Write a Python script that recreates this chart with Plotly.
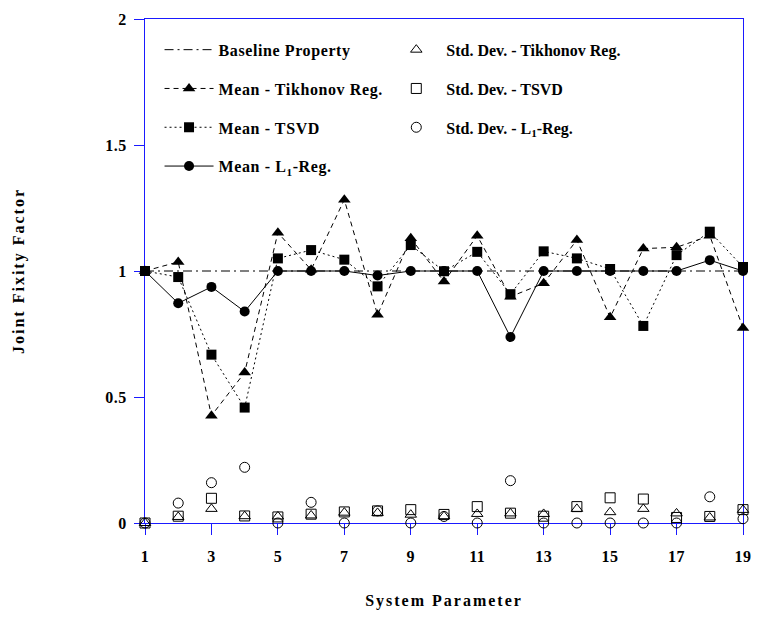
import plotly.graph_objects as go

params = list(range(1, 20))
baseline = [1.0] * 19
mean_tikhonov = [1.0, 1.036, 0.426, 0.597, 1.152, 1.005, 1.283, 0.826, 1.13, 0.958,
                 1.14, 0.898, 0.951, 1.123, 0.816, 1.089, 1.094, 1.14, 0.774]
mean_tsvd = [1.0, 0.976, 0.668, 0.458, 1.05, 1.083, 1.045, 0.939, 1.103, 0.999,
             1.076, 0.908, 1.078, 1.05, 1.008, 0.782, 1.063, 1.156, 1.016]
mean_l1 = [1.0, 0.872, 0.937, 0.839, 1.0, 1.0, 1.0, 0.982, 1.0, 1.0,
           1.0, 0.738, 1.0, 1.0, 1.0, 1.0, 1.0, 1.043, 1.0]
std_tikhonov = [0.0, 0.024, 0.056, 0.027, 0.026, 0.03, 0.041, 0.04, 0.033, 0.027,
                0.036, 0.038, 0.036, 0.056, 0.043, 0.056, 0.038, 0.022, 0.052]
std_tsvd = [0.0, 0.027, 0.098, 0.028, 0.024, 0.035, 0.044, 0.048, 0.053, 0.034,
            0.065, 0.039, 0.027, 0.065, 0.1, 0.095, 0.022, 0.026, 0.053]
std_l1 = [0.0, 0.079, 0.16, 0.221, 0.0, 0.082, 0.0, 0.048, 0.0, 0.026,
          0.0, 0.168, 0.0, 0.0, 0.0, 0.0, 0.0, 0.104, 0.017]

x_ticks = [1, 3, 5, 7, 9, 11, 13, 15, 17, 19]
y_ticks = [0, 0.5, 1, 1.5, 2]
y_tick_text = ["0", "0.5", "1", "1.5", "2"]

FONT = "Liberation Serif, Times New Roman, serif"
AXIS_BLUE = "#1a1aff"

fig = go.Figure()

fig.add_trace(go.Scatter(x=params, y=baseline, mode="lines", name="Baseline Property",
                         line=dict(color="black", width=1, dash="9px,4px,2px,4px"),
                         legend="legend", legendgroup="a", cliponaxis=False))
fig.add_trace(go.Scatter(x=params, y=mean_tikhonov, mode="lines+markers", name="Mean - Tikhonov Reg.",
                         line=dict(color="black", width=1, dash="5px,4px"),
                         marker=dict(symbol="triangle-up", size=11, color="black"),
                         legend="legend", legendgroup="b", cliponaxis=False))
fig.add_trace(go.Scatter(x=params, y=mean_tsvd, mode="lines+markers", name="Mean - TSVD",
                         line=dict(color="black", width=1, dash="2px,3px"),
                         marker=dict(symbol="square", size=10, color="black"),
                         legend="legend", legendgroup="c", cliponaxis=False))
fig.add_trace(go.Scatter(x=params, y=mean_l1, mode="lines+markers", name="Mean - L<sub>1</sub>-Reg.",
                         line=dict(color="black", width=1),
                         marker=dict(symbol="circle", size=10, color="black"),
                         legend="legend", legendgroup="d", cliponaxis=False))

fig.add_trace(go.Scatter(x=params, y=std_tikhonov, mode="markers", name="Std. Dev. - Tikhonov Reg.",
                         marker=dict(symbol="triangle-up-open", size=10, color="black", line=dict(width=1)),
                         legend="legend2", legendgroup="e", cliponaxis=False))
fig.add_trace(go.Scatter(x=params, y=std_tsvd, mode="markers", name="Std. Dev. - TSVD",
                         marker=dict(symbol="square-open", size=10, color="black", line=dict(width=1)),
                         legend="legend2", legendgroup="f", cliponaxis=False))
fig.add_trace(go.Scatter(x=params, y=std_l1, mode="markers", name="Std. Dev. - L<sub>1</sub>-Reg.",
                         marker=dict(symbol="circle-open", size=10, color="black", line=dict(width=1)),
                         legend="legend2", legendgroup="g", cliponaxis=False))

legend_font = dict(family=FONT, size=16, color="black", weight="bold")

fig.update_layout(
    width=762, height=617,
    margin=dict(l=145, r=11, t=12, b=93),
    paper_bgcolor="white", plot_bgcolor="white",
    font=dict(family=FONT, color="black"),
    legend=dict(x=0.0243, y=0.9727, xanchor="left", yanchor="top", bgcolor="rgba(0,0,0,0)",
                font=legend_font, itemwidth=49, tracegroupgap=15, traceorder="grouped"),
    legend2=dict(x=0.4035, y=0.9727, xanchor="left", yanchor="top", bgcolor="rgba(0,0,0,0)",
                 font=legend_font, itemwidth=50, tracegroupgap=15, traceorder="grouped"),
    xaxis=dict(range=[1, 19], tickvals=x_ticks, ticktext=[str(v) for v in x_ticks],
               showgrid=False, zeroline=False, showline=True, linecolor=AXIS_BLUE, linewidth=1,
               mirror=True, ticks="outside", ticklen=11, tickcolor=AXIS_BLUE, tickwidth=1,
               layer="below traces", ticklabelstandoff=8,
               tickfont=dict(family=FONT, size=16, color="black", weight="bold"),
               title=dict(text="System Parameter", standoff=30,
                          font=dict(family=FONT, size=16, color="black", weight="bold"))),
    yaxis=dict(range=[0, 2], tickvals=y_ticks, ticktext=y_tick_text,
               showgrid=False, zeroline=False, showline=True, linecolor=AXIS_BLUE, linewidth=1,
               mirror=True, ticks="outside", ticklen=10, tickcolor=AXIS_BLUE, tickwidth=1,
               layer="below traces", ticklabelstandoff=4,
               tickfont=dict(family=FONT, size=16, color="black", weight="bold"),
               title=dict(text="Joint Fixity Factor", standoff=78,
                          font=dict(family=FONT, size=16, color="black", weight="bold"))),
)

post = """
document.body.style.margin = '0';
var gd = document.getElementById('{plot_id}');
function ls(sel, v) { gd.querySelectorAll(sel).forEach(function (e) { e.style.letterSpacing = v; }); }
gd.querySelectorAll('.legend, .legend *').forEach(function (e) { e.removeAttribute('clip-path'); });
ls('.legendtext', '0.6px');
ls('.g-xtitle text', '2px');
ls('.g-ytitle text', '2px');
ls('.xtick text', '0.5px');
ls('.ytick text', '0.5px');
"""

fig.write_html("out.html", post_script=post, config={"displayModeBar": False})
